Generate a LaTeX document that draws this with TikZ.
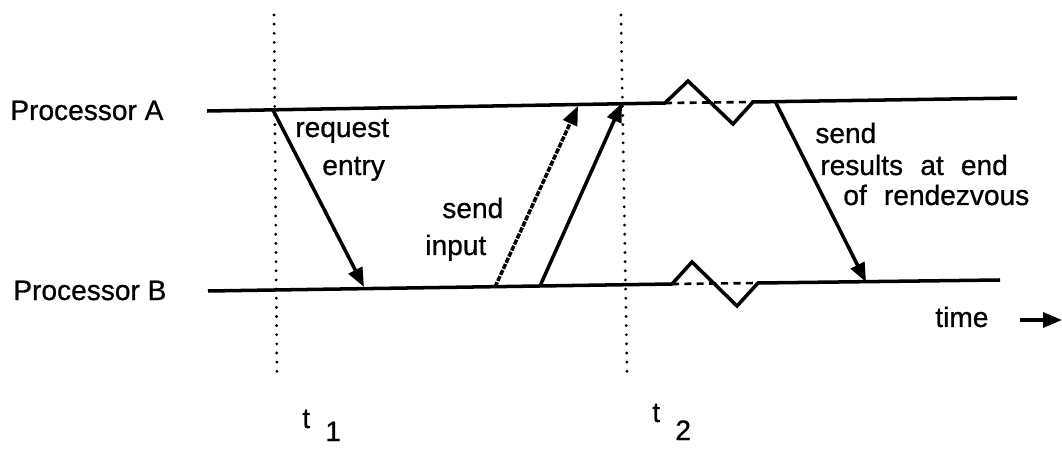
\documentclass[tikz,border=0pt]{standalone}
\usepackage{fontspec}
\setmainfont{Liberation Sans}[FakeBold=0.8]
\newfontfamily\widesans{Liberation Sans}[WordSpace=2.2,FakeBold=0.8]
\usetikzlibrary{arrows.meta}

\begin{document}
\begin{tikzpicture}[
    x=0.02cm,y=-0.02cm,
    proc/.style={line width=2pt},
    msg/.style={-{Triangle[length=3.8mm,width=3mm]},line width=2pt},
    msgd/.style={msg,dash pattern=on 3pt off 0.8pt},
    tick/.style={line width=1.8pt,line cap=round,dash pattern=on 0pt off 5.2pt},
    gap/.style={line width=1.5pt,dash pattern=on 4pt off 3pt},
    lbl/.style={anchor=base west,inner sep=0pt,font=\fontsize{16}{19}\selectfont},
    wlbl/.style={lbl,font=\widesans\fontsize{16}{19}\selectfont}
]
\useasboundingbox (0,0) rectangle (1062,449);

% time lines of the two processors, with the rendezvous break
\coordinate (aL) at (207,111);
\coordinate (aZ0) at (665,103);
\coordinate (aPk) at (688,81);
\coordinate (aVl) at (733,124);
\coordinate (aZ1) at (753,102);
\coordinate (aR) at (1017,98);
\coordinate (bL) at (208,291);
\coordinate (bZ0) at (672,284);
\coordinate (bPk) at (692,262);
\coordinate (bVl) at (737,306);
\coordinate (bZ1) at (758,283);
\coordinate (bR) at (1000,280);

\draw[proc] (aL) -- (aZ0) -- (aPk) -- (aVl) -- (aZ1) -- (aR);
\draw[proc] (bL) -- (bZ0) -- (bPk) -- (bVl) -- (bZ1) -- (bR);
\draw[gap] (aZ0) -- (aZ1);
\draw[gap] (bZ0) -- (bZ1);

\node[lbl] (procA) at (10,120) {Processor A};
\node[lbl] (procB) at (13,300) {Processor B};

% instants t1 and t2
\coordinate (t1top) at (274,15);
\coordinate (t1bot) at (277,378);
\coordinate (t2top) at (621,15);
\coordinate (t2bot) at (627,372);
\draw[tick] (t1top) -- (t1bot);
\draw[tick] (t2top) -- (t2bot);
\node[lbl] (t1) at (302,428) {t};
\node[lbl] (t1sub) at (325,441) {1};
\node[lbl] (t2) at (652,422) {t};
\node[lbl] (t2sub) at (675,440) {2};

% messages
\coordinate (reqA) at (273,110);
\coordinate (reqB) at (364,287);
\coordinate (inB) at (495,287);
\coordinate (inA) at (578,106);
\coordinate (in2B) at (540,286);
\coordinate (in2A) at (622,103);
\coordinate (resA) at (775,101);
\coordinate (resB) at (866,282);
\draw[msg] (reqA) -- (reqB);
\draw[msgd] (inB) -- (inA);
\draw[msg] (in2B) -- (in2A);
\draw[msg] (resA) -- (resB);

\node[lbl] (req1) at (295,137) {request};
\node[lbl] (req2) at (322,175) {entry};
\node[lbl] (inp1) at (442,218) {send};
\node[lbl] (inp2) at (425,255) {input};
\node[wlbl] (res1) at (815,143) {send};
\node[wlbl] (res2) at (820,175) {results at end};
\node[wlbl] (res3) at (843,205) {of rendezvous};

% time axis
\node[lbl] (time) at (935,327) {time};
\coordinate (timeL) at (1020,320);
\coordinate (timeR) at (1062,320);
\draw[msg] (timeL) -- (timeR);

\end{tikzpicture}
\end{document}
